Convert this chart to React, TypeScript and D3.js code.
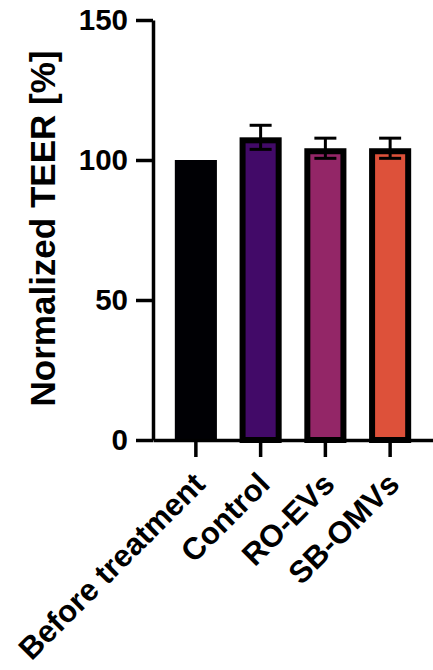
import { useEffect, useRef } from 'react';
import * as d3 from 'd3';

const categories = ['Before treatment', 'Control', 'RO-EVs', 'SB-OMVs'];
const means = [100, 108.1, 104.2, 104.2];
const errors = [0, 4.3, 3.6, 3.6];
const colors = ['#000004', '#420a68', '#932667', '#dd513a'];
const yTicks = [0, 50, 100, 150];

const App = () => {
    const svgRef = useRef(null);
    const width = 433;
    const height = 670;
    const font = '"Liberation Sans", Arial, Helvetica, sans-serif';

    useEffect(() => {
        const svg = d3.select(svgRef.current);
        svg.selectAll('*').remove();

        const x0 = 153;
        const xScale = d3.scaleBand()
            .domain(categories)
            .range([x0, 433])
            .paddingInner(0.35)
            .paddingOuter(0.337);

        const yScale = d3.scaleLinear()
            .domain([0, 150])
            .range([440, 20]);

        const rows = categories.map((c, i) => ({ name: c, mean: means[i], err: errors[i], color: colors[i] }));
        const bw = xScale.bandwidth();
        const sw = 6;

        // bars, first one has no outline
        svg.append('g')
            .selectAll('rect')
            .data(rows)
            .join('rect')
            .attr('x', (d, i) => i === 0 ? xScale(d.name) : xScale(d.name) + sw / 2)
            .attr('y', (d, i) => i === 0 ? yScale(d.mean) : yScale(d.mean) + sw / 2)
            .attr('width', (d, i) => i === 0 ? bw : bw - sw)
            .attr('height', (d, i) => i === 0 ? yScale(0) - yScale(d.mean) : yScale(0) - yScale(d.mean) - sw / 2)
            .attr('fill', d => d.color)
            .attr('stroke', (d, i) => i === 0 ? 'none' : '#000')
            .attr('stroke-width', sw);

        // error bars
        const eb = svg.append('g')
            .attr('stroke', '#000')
            .attr('stroke-width', 3)
            .attr('fill', 'none');
        const capW = 11;
        rows.filter(d => d.err > 0).forEach(d => {
            const cx = xScale(d.name) + bw / 2;
            const hi = yScale(d.mean + d.err);
            const lo = yScale(d.mean - d.err);
            eb.append('line').attr('x1', cx).attr('x2', cx).attr('y1', hi).attr('y2', lo);
            eb.append('line').attr('x1', cx - capW).attr('x2', cx + capW).attr('y1', hi).attr('y2', hi);
            eb.append('line').attr('x1', cx - capW).attr('x2', cx + capW).attr('y1', lo).attr('y2', lo);
        });

        // y axis
        const yAxis = svg.append('g')
            .attr('transform', 'translate(' + x0 + ',0)')
            .call(d3.axisLeft(yScale).tickValues(yTicks).tickSizeInner(17).tickSizeOuter(0).tickPadding(8));
        yAxis.select('.domain').attr('stroke-width', 3.5).attr('stroke', '#000');
        yAxis.selectAll('.tick line').attr('stroke-width', 3.5).attr('stroke', '#000');
        yAxis.selectAll('.tick text')
            .attr('font-family', font)
            .attr('font-weight', 'bold')
            .attr('font-size', 29.5)
            .attr('fill', '#000');

        // x axis
        const xAxis = svg.append('g')
            .attr('transform', 'translate(0,' + yScale(0) + ')')
            .call(d3.axisBottom(xScale).tickSizeInner(17).tickSizeOuter(0).tickFormat(() => ''));
        xAxis.select('.domain').attr('stroke-width', 3.5).attr('stroke', '#000');
        xAxis.selectAll('.tick line').attr('stroke-width', 3.5).attr('stroke', '#000');

        // rotated category labels
        svg.append('g')
            .selectAll('text')
            .data(categories)
            .join('text')
            .attr('transform', d => 'translate(' + (xScale(d) + bw / 2 + 11) + ',486) rotate(-45)')
            .attr('text-anchor', 'end')
            .attr('font-family', font)
            .attr('font-weight', 'bold')
            .attr('font-size', 31)
            .text(d => d);

        svg.append('text')
            .attr('transform', 'translate(55,228.5) rotate(-90)')
            .attr('text-anchor', 'middle')
            .attr('font-family', font)
            .attr('font-weight', 'bold')
            .attr('font-size', 35)
            .text('Normalized TEER [%]');
    }, []);

    return (
        <svg ref={svgRef} width={width} height={height}
            style={{ position: 'absolute', left: 0, top: 0, background: '#fff' }}></svg>
    );
};

export default App;
